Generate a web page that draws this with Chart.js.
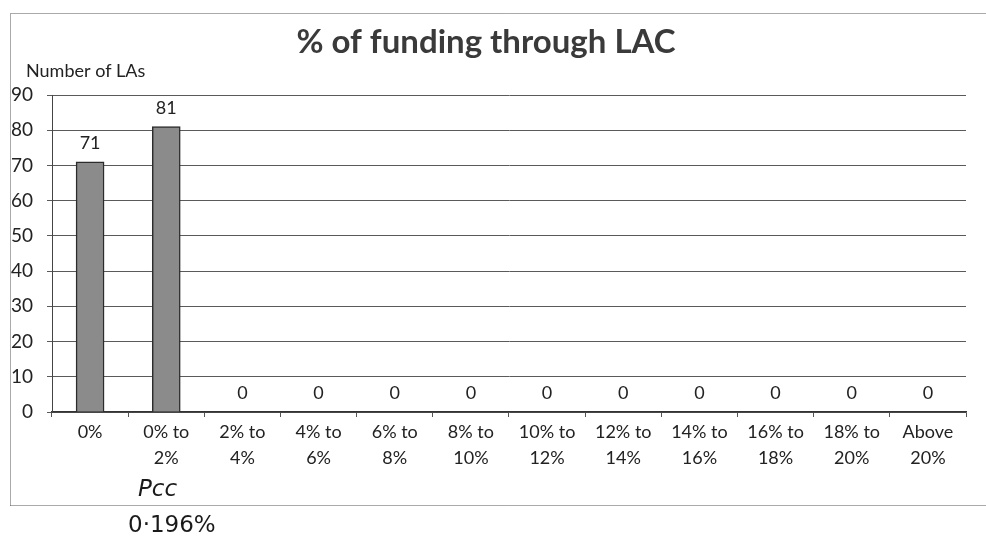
<!DOCTYPE html>
<html>
<head>
<meta charset="utf-8">
<script src="https://cdn.jsdelivr.net/npm/chart.js@4"></script>
<style>
html,body{margin:0;padding:0;background:#fff;}
#wrap{width:986px;height:541px;position:relative;}
</style>
</head>
<body>
<div id="wrap"><canvas id="c" width="986" height="541"></canvas></div>
<script>
const categories = [["0%"],["0% to","2%"],["2% to","4%"],["4% to","6%"],["6% to","8%"],["8% to","10%"],["10% to","12%"],["12% to","14%"],["14% to","16%"],["16% to","18%"],["18% to","20%"],["Above","20%"]];
const numberOfLAs = [71,81,0,0,0,0,0,0,0,0,0,0];
const yTicks = [0,10,20,30,40,50,60,70,80,90];
const titleText = "% of funding through LAC";
const yAxisTitle = "Number of LAs";
const noteLines = ["Pcc","0·196%"];

const FONT = "Lato, 'Open Sans', sans-serif";

const decor = {
  id:'decor',
  beforeDraw(chart){
    const ctx = chart.ctx;
    ctx.save();
    ctx.fillStyle='#fff';
    ctx.fillRect(0,0,chart.width,chart.height);
    ctx.strokeStyle='#555';
    ctx.lineWidth=1;
    ctx.setLineDash([1,1]);
    ctx.beginPath();
    ctx.moveTo(10.5,505.5);
    ctx.lineTo(10.5,13.5);
    ctx.lineTo(985.5,13.5);
    ctx.moveTo(10.5,505.5);
    ctx.lineTo(985.5,505.5);
    ctx.stroke();
    ctx.restore();
  },
  afterDraw(chart){
    const ctx = chart.ctx;
    ctx.save();
    ctx.fillStyle='#3a3a3a';
    ctx.font = "bold 33px " + FONT;
    ctx.textAlign='center';
    ctx.textBaseline='middle';
    ctx.fillText(titleText, 486, 42);
    ctx.fillStyle='#222';
    ctx.font = "18px " + FONT;
    ctx.textAlign='left';
    ctx.fillText(yAxisTitle, 26, 71);
    // data labels
    const meta = chart.getDatasetMeta(0);
    ctx.font = "18px " + FONT;
    ctx.textAlign='center';
    ctx.textBaseline='middle';
    meta.data.forEach((bar,i)=>{
      ctx.fillText(String(numberOfLAs[i]), bar.x, bar.y - 19);
    });
    // handwritten annotation
    ctx.fillStyle='#1a1a1a';
    ctx.font = "italic 23px 'DejaVu Sans', sans-serif";
    ctx.textAlign='left';
    ctx.fillText(noteLines[0], 138, 490);
    ctx.font = "23px 'DejaVu Sans', sans-serif";
    ctx.fillText(noteLines[1], 128, 526);
    ctx.restore();
  }
};

new Chart(document.getElementById('c'), {
  type:'bar',
  data:{
    labels:categories,
    datasets:[{
      data:numberOfLAs,
      backgroundColor:'#8b8b8b',
      borderColor:'#2c2c2c',
      borderWidth:1.5,
      barThickness:28
    }]
  },
  options:{
    responsive:false,
    animation:false,
    devicePixelRatio:1,
    layout:{padding:{top:95,right:20,left:0,bottom:0}},
    plugins:{legend:{display:false},tooltip:{enabled:false},title:{display:false}},
    scales:{
      x:{
        grid:{drawOnChartArea:false,drawTicks:true,tickLength:5,color:'#555',offset:true},
        border:{color:'#333',width:1.5},
        ticks:{color:'#222',font:{family:FONT,size:18,lineHeight:1.4},padding:3,maxRotation:0,autoSkip:false},
        afterFit(s){ s.height = 129; }
      },
      y:{
        min:0,max:90,
        afterBuildTicks(s){ s.ticks = yTicks.map(v=>({value:v})); },
        grid:{color:'#5a5a5a',lineWidth:1,tickLength:5,drawTicks:true},
        border:{color:'#444',width:1},
        ticks:{color:'#222',font:{family:FONT,size:19},padding:14},
        afterFit(s){ s.width = 52; }
      }
    }
  },
  plugins:[decor]
});
</script>
</body>
</html>
